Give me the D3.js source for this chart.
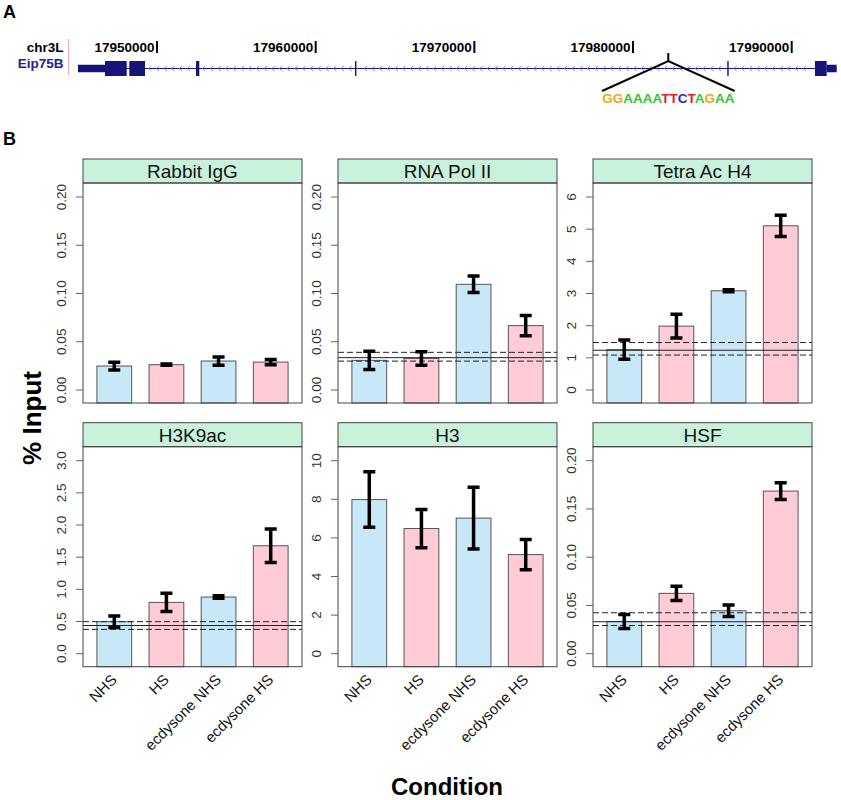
<!DOCTYPE html>
<html>
<head>
<meta charset="utf-8">
<script src="https://cdn.jsdelivr.net/npm/d3@7"></script>
<style>
body { margin: 0; background: #fff; }
text { font-family: "Liberation Sans", Arial, sans-serif; }
</style>
</head>
<body>
<script>
// ---- panel A: gene track ----
var scaleMarks = [17950000, 17960000, 17970000, 17980000, 17990000];
var exonStart = [17945021, 17946723, 17948254, 17952458, 17962478, 17985940, 17991467, 17992204];
var exonEnd   = [17946723, 17948091, 17949244, 17952666, 17962560, 17986016, 17992204, 17992834];
var exonKind  = ["utr", "cds", "cds", "cds", "cds", "cds", "cds", "utr"];
var motifPos = 17982222;
var motifSeq = "GGAAAATTCTAGAA";
var baseColor = {G: "#f2a71b", A: "#2fc83a", T: "#e61e1e", C: "#2727c4"};

// ---- panel B: ChIP % input ----
var conditions = ["NHS", "HS", "ecdysone NHS", "ecdysone HS"];
var condColor = ["#c8e8f8", "#ffccd6", "#c8e8f8", "#ffccd6"];
var antibodies = ["Rabbit IgG", "RNA Pol II", "Tetra Ac H4", "H3K9ac", "H3", "HSF"];
var yLimits = [0.2, 0.2, 6, 3, 10, 0.2];
var yStep = [0.05, 0.05, 1, 0.5, 2, 0.05];
var yFormat = [".2f", ".2f", "d", ".1f", "d", ".2f"];
var means = [
  [0.0243, 0.0257, 0.0295, 0.0284],
  [0.0302, 0.0322, 0.109, 0.0662],
  [1.24, 1.97, 3.07, 5.09],
  [0.49, 0.79, 0.873, 1.67],
  [7.96, 6.46, 7.0, 5.11],
  [0.0329, 0.062, 0.044, 0.168]
];
var errs = [
  [0.0040, 0.0007, 0.0043, 0.0028],
  [0.0094, 0.0070, 0.0085, 0.0106],
  [0.30, 0.37, 0.03, 0.33],
  [0.09, 0.14, 0.02, 0.26],
  [1.44, 0.99, 1.60, 0.78],
  [0.0073, 0.0073, 0.0060, 0.0087]
];
// background (IgG) reference level with its lower/upper bound, where shown
var refMid  = [null, 0.033, 1.22, 0.43, null, 0.0326];
var refLow  = [null, 0.0294, 1.07, 0.37, null, 0.0287];
var refHigh = [null, 0.0385, 1.46, 0.49, null, 0.0419];

var svg = d3.select("body").append("svg")
  .attr("width", 841)
  .attr("height", 800);

// panel letters
svg.append("text").attr("x", 3).attr("y", 18).attr("font-size", 18).attr("font-weight", "bold").text("A");
svg.append("text").attr("x", 3).attr("y", 145).attr("font-size", 18).attr("font-weight", "bold").text("B");

//genome coordinate scale
var gx = d3.scaleLinear().domain([17950000, 17990000]).range([157, 791.7]);
var geneY = 68.5;
var navy = "#14147a";

svg.append("text").attr("x", 63.5).attr("y", 51.5).attr("text-anchor", "end")
  .attr("font-size", 13.5).attr("font-weight", "bold").text("chr3L");
svg.append("text").attr("x", 63.5).attr("y", 67.5).attr("text-anchor", "end")
  .attr("font-size", 13.5).attr("font-weight", "bold").attr("fill", "#22228c").text("Eip75B");
svg.append("line").attr("x1", 68.5).attr("x2", 68.5).attr("y1", 39).attr("y2", 75)
  .attr("stroke", "#f0a8a8").attr("stroke-width", 1);

scaleMarks.forEach(function(p) {
  svg.append("line").attr("x1", gx(p)).attr("x2", gx(p)).attr("y1", 41).attr("y2", 53)
    .attr("stroke", "#000").attr("stroke-width", 2);
  svg.append("text").attr("x", gx(p) - 2.5).attr("y", 51.5).attr("text-anchor", "end")
    .attr("font-size", 13.5).attr("font-weight", "bold").text(p);
});

// intron line + direction chevrons
var gStart = d3.min(exonStart), gEnd = d3.max(exonEnd);
svg.append("line").attr("x1", gx(gStart)).attr("x2", gx(gEnd)).attr("y1", geneY).attr("y2", geneY)
  .attr("stroke", navy).attr("stroke-width", 1);
for (var cx = gx(exonEnd[2]) + 5; cx < gx(exonStart[6]) - 3; cx += 7.7) {
  var inside = false;
  for (var e = 0; e < exonStart.length; e++) {
    if (cx > gx(exonStart[e]) - 3 && cx < gx(exonEnd[e]) + 3) inside = true;
  }
  if (inside) continue;
  svg.append("path")
    .attr("d", "M" + (cx + 1.5) + "," + (geneY - 2.5) + "L" + (cx - 1.5) + "," + geneY + "L" + (cx + 1.5) + "," + (geneY + 2.5))
    .attr("fill", "none").attr("stroke", "#7d7dc8").attr("stroke-width", 0.9);
}
exonStart.forEach(function(s, i) {
  var h = exonKind[i] == "cds" ? 15 : 7.5;
  svg.append("rect")
    .attr("x", gx(s)).attr("width", Math.max(1.4, gx(exonEnd[i]) - gx(s)))
    .attr("y", geneY - h / 2).attr("height", h)
    .attr("fill", navy);
});

// motif marker and sequence
var mx = gx(motifPos);
var seqText = svg.append("text").attr("x", mx).attr("y", 103).attr("text-anchor", "middle")
  .attr("font-size", 13.5).attr("font-weight", "bold");
motifSeq.split("").forEach(function(b) {
  seqText.append("tspan").attr("fill", baseColor[b]).text(b);
});
var sb = seqText.node().getBBox();
svg.append("path")
  .attr("d", "M" + mx + ",53L" + mx + ",61M" + sb.x + ",91L" + mx + ",61L" + (sb.x + sb.width) + ",91")
  .attr("fill", "none").attr("stroke", "#000").attr("stroke-width", 2);

// ---- panel B grid ----
var colLeft = [83, 338, 593];
var rowTop = [159, 422.7];
var panelW = 219, stripH = 24, plotH = 220;

antibodies.forEach(function(ab, k) {
  var col = k % 3, row = Math.floor(k / 3);
  var x0 = colLeft[col], top = rowTop[row], y0 = top + stripH, yb = y0 + plotH;
  var pad = yLimits[k] * 0.07;

  var y = d3.scaleLinear().domain([-pad, yLimits[k] + pad]).range([yb, y0]);
  var x = d3.scaleBand().domain(conditions).range([x0, x0 + panelW])
    .paddingInner(1 / 3).paddingOuter(0.2667);

  var p = svg.append("g");

  //strip
  p.append("rect").attr("x", x0).attr("y", top).attr("width", panelW).attr("height", stripH)
    .attr("fill", "#c9f2dc").attr("stroke", "#444").attr("stroke-width", 1);
  p.append("text").attr("x", x0 + panelW / 2).attr("y", top + 19).attr("text-anchor", "middle")
    .attr("font-size", 19).attr("fill", "#111").text(ab);

  // bars
  p.selectAll(".bar").data(conditions).enter().append("rect")
    .attr("x", function(d) { return x(d); })
    .attr("width", x.bandwidth())
    .attr("y", function(d, i) { return y(means[k][i]); })
    .attr("height", function(d, i) { return yb - y(means[k][i]); })
    .attr("fill", function(d, i) { return condColor[i]; })
    .attr("stroke", "#555").attr("stroke-width", 1);

  // reference lines
  if (refMid[k] != null) {
    [[refMid[k], null], [refLow[k], "6,3"], [refHigh[k], "6,3"]].forEach(function(r) {
      p.append("line").attr("x1", x0).attr("x2", x0 + panelW)
        .attr("y1", y(r[0])).attr("y2", y(r[0]))
        .attr("stroke", "#222").attr("stroke-width", 1)
        .attr("stroke-dasharray", r[1]);
    });
  }

  // error bars
  conditions.forEach(function(c, i) {
    var cx = x(c) + x.bandwidth() / 2;
    var hi = y(means[k][i] + errs[k][i]), lo = y(means[k][i] - errs[k][i]);
    p.append("path")
      .attr("d", "M" + cx + "," + hi + "L" + cx + "," + lo +
                 "M" + (cx - 6) + "," + hi + "L" + (cx + 6) + "," + hi +
                 "M" + (cx - 6) + "," + lo + "L" + (cx + 6) + "," + lo)
      .attr("fill", "none").attr("stroke", "#000").attr("stroke-width", 3.5);
  });

  // panel border
  p.append("rect").attr("x", x0).attr("y", y0).attr("width", panelW).attr("height", plotH)
    .attr("fill", "none").attr("stroke", "#444").attr("stroke-width", 1);

  // y axis
  var ticks = d3.range(0, yLimits[k] + yStep[k] / 2, yStep[k]);
  var ax = p.append("g").attr("transform", "translate(" + x0 + ",0)")
    .call(d3.axisLeft(y).tickValues(ticks).tickFormat(d3.format(yFormat[k])).tickSize(7));
  ax.select(".domain").remove();
  ax.selectAll(".tick line").attr("stroke", "#666");
  ax.selectAll(".tick text")
    .attr("transform", "rotate(-90)")
    .attr("x", 0).attr("y", -17).attr("dy", 0)
    .attr("text-anchor", "middle")
    .attr("font-size", 13.5).attr("fill", "#333")
    .style("font-family", "'Liberation Sans', Arial, sans-serif");

  // x labels on bottom row
  if (row == 1) {
    conditions.forEach(function(c) {
      var tx = x(c) + x.bandwidth() / 2 + 3.5, ty = yb + 14;
      p.append("text")
        .attr("transform", "translate(" + tx + "," + ty + ")rotate(-45)")
        .attr("text-anchor", "end")
        .attr("font-size", 15).attr("fill", "#111")
        .text(c);
    });
  }
});

// axis titles
svg.append("text").attr("x", 447).attr("y", 795).attr("text-anchor", "middle")
  .attr("font-size", 24).attr("font-weight", "bold").text("Condition");
svg.append("text").attr("transform", "translate(41,418)rotate(-90)").attr("text-anchor", "middle")
  .attr("font-size", 26).attr("font-weight", "bold").text("% Input");
</script>
</body>
</html>
